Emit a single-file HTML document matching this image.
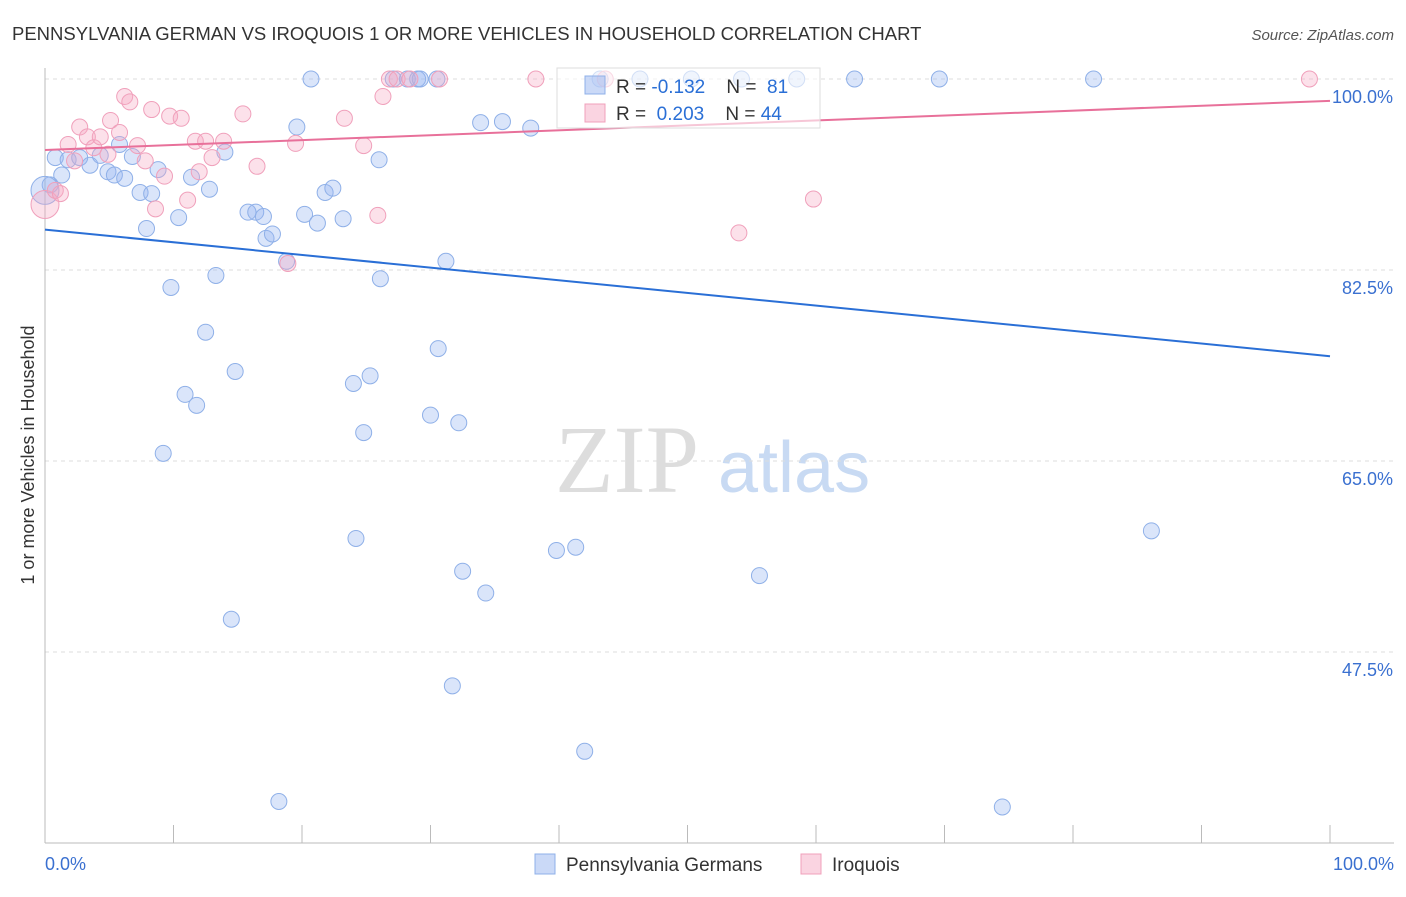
<!DOCTYPE html>
<html><head><meta charset="utf-8"><style>
body{margin:0;background:#fff;font-family:"Liberation Sans",sans-serif}
</style></head><body>
<svg id="c" width="1406" height="892" xmlns="http://www.w3.org/2000/svg" font-family="Liberation Sans, sans-serif">
<text x="12" y="40" font-size="18.5" fill="#333">PENNSYLVANIA GERMAN VS IROQUOIS 1 OR MORE VEHICLES IN HOUSEHOLD CORRELATION CHART</text>
<text x="1394" y="40" font-size="15" fill="#555" font-style="italic" text-anchor="end">Source: ZipAtlas.com</text>
<text transform="translate(34,455) rotate(-90)" font-size="18" fill="#333" text-anchor="middle">1 or more Vehicles in Household</text>
<text x="555" y="492" font-size="96" fill="#ddd" font-family="Liberation Serif, serif">ZIP</text>
<text x="718" y="492" font-size="72" fill="#c8daf3">atlas</text>
<g id="grid"></g><g id="axes"></g><g id="pts"></g><g id="lines"></g>
<g>
<rect x="557" y="68" width="263" height="60" fill="#fff" fill-opacity="0.6" stroke="#ddd"/>
<rect x="585" y="76" width="20" height="18" fill="rgba(150,180,240,0.5)" stroke="#8fb0e8"/>
<text x="616" y="93" font-size="19" fill="#333" xml:space="preserve" style="white-space:pre">R = <tspan fill="#2a6fd6">-0.132</tspan>    N =  <tspan fill="#2a6fd6">81</tspan></text>
<rect x="585" y="104" width="20" height="18" fill="rgba(245,170,195,0.5)" stroke="#f0a0bb"/>
<text x="616" y="120" font-size="19" fill="#333" xml:space="preserve" style="white-space:pre">R =  <tspan fill="#2a6fd6">0.203</tspan>    N = <tspan fill="#2a6fd6">44</tspan></text>
</g>
<g>
<rect x="535" y="854" width="20" height="20" fill="rgba(150,180,240,0.5)" stroke="#8fb0e8"/>
<text x="566" y="871" font-size="19" fill="#333">Pennsylvania Germans</text>
<rect x="801" y="854" width="20" height="20" fill="rgba(245,170,195,0.5)" stroke="#f0a0bb"/>
<text x="832" y="871" font-size="19" fill="#333">Iroquois</text>
</g>
</svg>
<script>
const yTicks=[100,82.5,65,47.5];
const yTickLabels=["100.0%","82.5%","65.0%","47.5%"];
const blueX=[0.8,1.8,2.7,3.5,4.3,1.3,0.4,4.9,5.4,6.2,5.8,6.8,7.4,8.3,8.8,7.9,10.4,11.4,12.8,14.0,9.8,13.3,12.5,14.8,10.9,11.8,9.2,15.8,16.4,17.0,17.2,17.7,18.8,19.6,20.2,21.2,21.8,22.4,23.2,20.7,26.0,26.1,24.0,25.3,31.2,30.6,30.0,32.2,24.8,24.2,14.5,32.5,34.3,31.7,39.8,41.3,42.0,18.2,55.6,74.5,86.1,33.9,35.6,37.8,27.1,28.2,29.0,29.2,30.5,43.2,46.3,50.3,54.2,58.5,63.0,69.6,81.6,0];
const blueY=[92.8,92.6,92.8,92.1,93.0,91.2,90.3,91.5,91.2,90.9,94.0,92.9,89.6,89.5,91.7,86.3,87.3,91.0,89.9,93.3,80.9,82.0,76.8,73.2,71.1,70.1,65.7,87.8,87.8,87.4,85.4,85.8,83.3,95.6,87.6,86.8,89.6,90.0,87.2,100,92.6,81.7,72.1,72.8,83.3,75.3,69.2,68.5,67.6,57.9,50.5,54.9,52.9,44.4,56.8,57.1,38.4,33.8,54.5,33.3,58.6,96.0,96.1,95.5,100,100,100,100,100,100,100,100,100,100,100,100,100,89.8];
const pinkX=[0,0.8,1.2,1.8,2.3,2.7,3.3,3.8,4.3,4.9,5.1,5.8,6.2,6.6,7.2,7.8,8.3,8.6,9.3,9.7,10.6,11.1,11.7,12.0,12.5,13.0,13.9,15.4,16.5,18.9,19.5,23.3,24.8,25.9,26.3,26.8,27.4,28.4,30.7,38.2,54.0,59.8,98.4,43.6];
const pinkY=[88.5,89.8,89.5,94.0,92.5,95.6,94.7,93.7,94.7,93.1,96.2,95.1,98.4,97.9,93.9,92.5,97.2,88.1,91.1,96.6,96.4,88.9,94.3,91.5,94.3,92.8,94.3,96.8,92.0,83.1,94.1,96.4,93.9,87.5,98.4,100,100,100,100,100,85.9,89.0,100,100];
const blueTrend=[86.2,74.6];
const pinkTrend=[93.5,98.0];
const NS="http://www.w3.org/2000/svg";
const X=v=>45+v*12.85, Y=v=>79+(100-v)*10.914;
function mk(t,a,p){const e=document.createElementNS(NS,t);for(const k in a)e.setAttribute(k,a[k]);p.appendChild(e);return e;}
const grid=document.getElementById('grid'),axes=document.getElementById('axes');
yTicks.forEach((t,i)=>{
 const l=mk('line',{x1:45,x2:1394,y1:Y(t),y2:Y(t),stroke:'#ddd','stroke-dasharray':'4 4'},grid);
 
 
 const tx=mk('text',{x:1393,y:Y(t)+24,'font-size':18,fill:'#3a70d0','text-anchor':'end'},axes);
 tx.textContent=yTickLabels[i];
 
 
});
const ax=mk('line',{x1:45,x2:1394,y1:843,y2:843,stroke:'#bbb'},axes);


const ay=mk('line',{x1:45,x2:45,y1:68,y2:843,stroke:'#bbb'},axes);


for(let i=0;i<=10;i++){const t=mk('line',{x1:X(i*10),x2:X(i*10),y1:825,y2:843,stroke:'#bbb'},axes);
 
 }
[[0,'0.0%','start',45],[100,'100.0%','end',1394]].forEach(d=>{const t=mk('text',{x:d[3],y:870,'font-size':18,fill:'#3a70d0','text-anchor':d[2]},axes);t.textContent=d[1];
 
 });
const pts=document.getElementById('pts');
blueX.forEach((v,i)=>{const c=mk('circle',{cx:X(v),cy:Y(blueY[i]),r:i==blueX.length-1?14:8,fill:'rgba(150,180,240,0.35)',stroke:'#8fb0e8','stroke-width':1},pts);
 
 });
pinkX.forEach((v,i)=>{const c=mk('circle',{cx:X(v),cy:Y(pinkY[i]),r:i==0?14:8,fill:'rgba(245,170,195,0.35)',stroke:'#f0a0bb','stroke-width':1},pts);
 
 });
const lines=document.getElementById('lines');
const bl=mk('line',{x1:X(0),x2:X(100),y1:Y(blueTrend[0]),y2:Y(blueTrend[1]),stroke:'#2a6fd6','stroke-width':2},lines);


const pl=mk('line',{x1:X(0),x2:X(100),y1:Y(pinkTrend[0]),y2:Y(pinkTrend[1]),stroke:'#e8709a','stroke-width':2},lines);


</script>
</body></html>
